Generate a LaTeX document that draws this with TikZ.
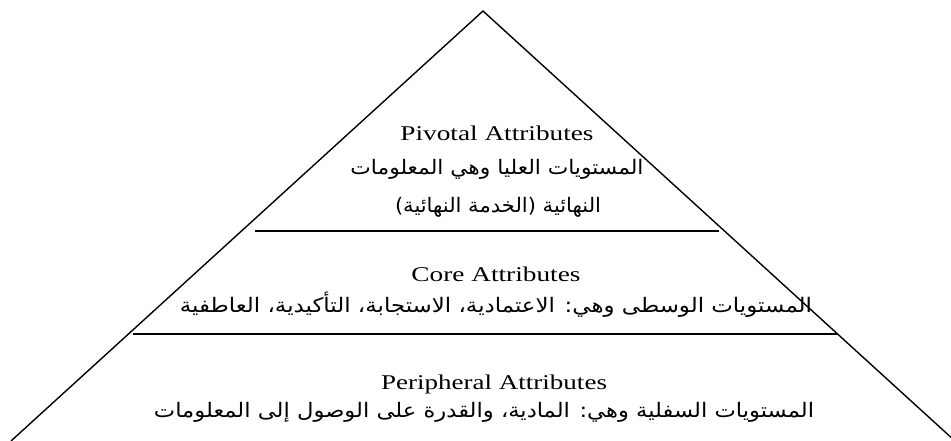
\documentclass[tikz,border=0pt]{standalone}
\usepackage{fontspec}
\usepackage{graphicx}
\setmainfont{Liberation Serif}
\newfontfamily\arabicfont[Script=Arabic]{DejaVu Sans}
\TeXXeTstate=1
\newcommand{\wbox}[2]{\resizebox{#1pt}{\height}{#2}}
\tikzset{
  edgeline/.style={line width=1.4pt, black},
  sepline/.style={line width=1.7pt, black},
  en/.style={font=\fontsize{21}{24}\selectfont, inner sep=0pt},
  ar/.style={font=\arabicfont\fontsize{20}{23}\selectfont, inner sep=0pt}
}
\begin{document}
\begin{tikzpicture}[x=1pt,y=-1pt]
\useasboundingbox (0,0) rectangle (951,441);
% pyramid
\coordinate (apex) at (483,11);
\coordinate (bl) at (11,441);
\coordinate (br) at (955,441);
\begin{scope}
\clip (0,0) rectangle (951,441);
\draw[edgeline, line join=miter] (bl) -- (apex) -- (br);
\end{scope}
% separators
\coordinate (s1a) at (255,231);
\coordinate (s1b) at (719,231);
\coordinate (s2a) at (133,334);
\coordinate (s2b) at (838,334);
\draw[sepline] (s1a) -- (s1b);
\draw[sepline] (s2a) -- (s2b);
% texts
\node[en] (piv) at (497,133) {\wbox{193}{Pivotal Attributes}};
\node[ar] (piva) at (497,169) {\wbox{293}{\beginR المستويات العليا وهي المعلومات\endR}};
\node[ar] (pivb) at (498,207) {\wbox{206}{\beginR النهائية (الخدمة النهائية)\endR}};
\node[en] (core) at (496,274) {\wbox{169}{Core Attributes}};
\node[ar] (corea) at (496,305) {\wbox{632}{\beginR المستويات الوسطى وهي: الاعتمادية، الاستجابة، التأكيدية، العاطفية\endR}};
\node[en] (peri) at (494,384) {\wbox{226}{Peripheral Attributes}};
\node[ar] (peria) at (484,412) {\wbox{660}{\beginR المستويات السفلية وهي: المادية، والقدرة على الوصول إلى المعلومات\endR}};
\end{tikzpicture}
\end{document}
